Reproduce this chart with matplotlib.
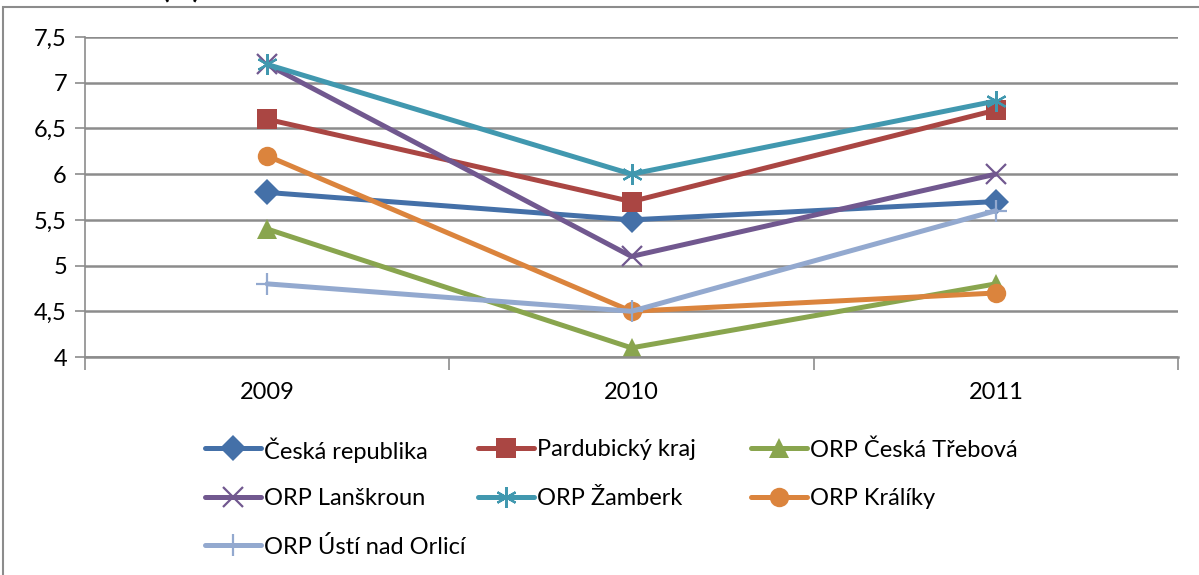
import matplotlib
matplotlib.use('Agg')
import matplotlib.pyplot as plt
from matplotlib.patches import Rectangle
from matplotlib.lines import Line2D

plt.rcParams['font.family'] = ['Lato', 'DejaVu Sans']

years = ['2009', '2010', '2011']
names = ['Česká republika', 'Pardubický kraj', 'ORP Česká Třebová',
         'ORP Lanškroun', 'ORP Žamberk', 'ORP Králíky', 'ORP Ústí nad Orlicí']
cr = [5.8, 5.5, 5.7]
pardubicky = [6.6, 5.7, 6.7]
ceska_trebova = [5.4, 4.1, 4.8]
lanskroun = [7.2, 5.1, 6.0]
zamberk = [7.2, 6.0, 6.8]
kraliky = [6.2, 4.5, 4.7]
usti = [4.8, 4.5, 5.6]
yticks = [4, 4.5, 5, 5.5, 6, 6.5, 7, 7.5]

series = [cr, pardubicky, ceska_trebova, lanskroun, zamberk, kraliky, usti]
colors = ['#4470A8', '#AA4643', '#89A54E', '#71588F', '#4198AF', '#DB843D', '#93A9CF']
markers = ['D', 's', '^', 'x', (6, 2, 0), 'o', '+']
msizes = [13, 14, 14, 14, 15, 14, 16]

W, H = 1199, 575
fig = plt.figure(figsize=(W / 100, H / 100), dpi=100)
ax = fig.add_axes([85 / W, 1 - 357 / H, (1178 - 85) / W, (357 - 37) / H])

x = range(len(years))
styles = []
for vals, name, c, m, ms in zip(series, names, colors, markers, msizes):
    filled = m not in ('x', '+') and not isinstance(m, tuple)
    st = dict(color=c, lw=3.6, marker=m, ms=ms, mew=0 if filled else 1.6,
              mfc=c, mec=c, solid_capstyle='round')
    ax.plot(x, vals, label=name, clip_on=False, **st)
    styles.append(st)

ax.set_xlim(-0.5, 2.5)
ax.set_ylim(4, 7.5)
ax.set_yticks(yticks)
ax.set_yticklabels([f'{v:g}'.replace('.', ',') for v in yticks])
ax.yaxis.grid(True, color='#8C8C8C', lw=1.8)
ax.set_axisbelow(True)

# category ticks sit between the years
ax.set_xticks([-0.5, 0.5, 1.5, 2.5])
ax.set_xticklabels([])
ax.set_xticks(list(x), minor=True)
ax.set_xticklabels(years, minor=True)
ax.tick_params(axis='x', which='minor', length=0, pad=18, labelsize=17)
ax.tick_params(axis='x', which='major', length=9, width=1.2, color='#8C8C8C')
ax.tick_params(axis='y', length=7, width=1.2, color='#8C8C8C', pad=6, labelsize=17)

for side in ['top', 'right']:
    ax.spines[side].set_visible(False)
ax.spines['left'].set_color('#8C8C8C')
ax.spines['bottom'].set_color('#8C8C8C')
ax.spines['left'].set_linewidth(1.2)
ax.spines['bottom'].set_linewidth(1.8)

# legend: three equal-width columns filled row by row
col_x0, col_w, hlen = 205, 273, 56
row_y0, row_h = 448, 48.5
for i, (name, st) in enumerate(zip(names, styles)):
    cx = col_x0 + (i % 3) * col_w
    cy = row_y0 + (i // 3) * row_h
    fig.add_artist(Line2D([cx / W, (cx + hlen) / W], [1 - cy / H] * 2,
                          transform=fig.transFigure, markevery=[], **st))
    fig.add_artist(Line2D([(cx + hlen / 2) / W], [1 - cy / H],
                          transform=fig.transFigure, ls='none',
                          **{k: v for k, v in st.items() if k not in ('lw', 'solid_capstyle')}))
    fig.text((cx + hlen + 3) / W, 1 - cy / H, name, fontsize=17,
             va='center_baseline', ha='left')

# chart border and the clipped title above it
fig.patches.append(Rectangle((3 / W, -0.1), 1.2, 1 - 7 / H + 0.1,
                             transform=fig.transFigure, fill=False,
                             edgecolor='#8C8C8C', lw=1.5))
fig.text(162 / W, 1 + 2 / H, '(%)', fontsize=20, fontweight='bold',
         va='baseline', ha='left')

fig.savefig('out.png', dpi=100)
